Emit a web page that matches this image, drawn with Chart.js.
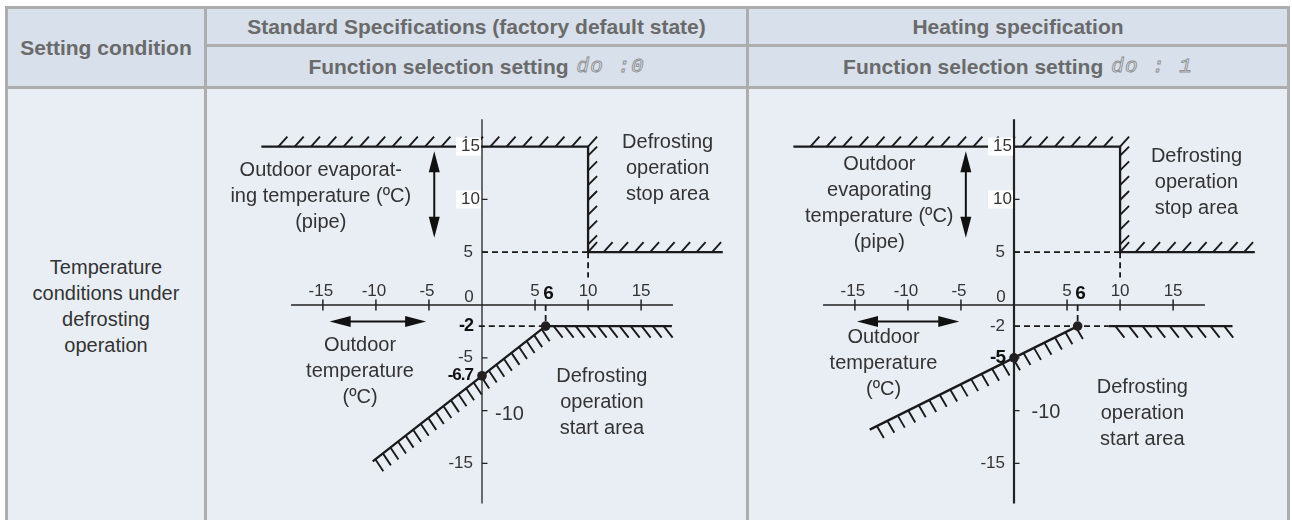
<!DOCTYPE html>
<html>
<head>
<meta charset="utf-8">
<script src="https://cdn.jsdelivr.net/npm/chart.js@4.4.1/dist/chart.umd.min.js"></script>
<style>
  body { margin: 0; width: 1292px; height: 520px; overflow: hidden; background: #fff;
         font-family: "Liberation Sans", Arial, sans-serif; }
  #grid { position: absolute; left: 5px; top: 6px; width: 1285px; box-sizing: border-box;
          display: grid; grid-template-columns: 196px 539px 538px; grid-template-rows: 35px 39px 434px;
          gap: 3px; padding: 3px; background: #adadad; z-index: 1; }
  .hd { background: #d7e0eb; color: #6a6a6a; font-weight: bold; font-size: 21px;
        display: flex; align-items: center; justify-content: center; white-space: nowrap; }
  .bd { background: #e9eef5; }
  .cond { display: flex; align-items: center; justify-content: center; text-align: center;
          color: #333; font-size: 20px; line-height: 26px; }
  .seg { font-family: "Liberation Mono", monospace; font-weight: normal; font-style: italic;
         color: transparent; -webkit-text-stroke: 0.9px #8f8f8f; margin-left: 8px; letter-spacing: 1px; }
  canvas { position: absolute; z-index: 2; }
</style>
</head>
<body>
<div id="grid">
  <div class="hd" style="grid-row: 1 / 3;">Setting condition</div>
  <div class="hd">Standard Specifications (factory default state)</div>
  <div class="hd">Heating specification</div>
  <div class="hd">Function selection setting<span class="seg">do :0</span></div>
  <div class="hd">Function selection setting<span class="seg">do : 1</span></div>
  <div class="bd cond">Temperature<br>conditions under<br>defrosting<br>operation</div>
  <div class="bd"></div>
  <div class="bd"></div>
</div>
<canvas id="c0" width="540" height="432" style="left:212px; top:89px; width:540px; height:432px;"></canvas>
<canvas id="c1" width="540" height="432" style="left:744px; top:89px; width:540px; height:432px;"></canvas>

<script>
// ---- axis ticks (°C) ----
const xTicks = [-15, -10, -5, 5, 10, 15];
const yTicks = [15, 10, 5, -5, -10, -15];

// ---- standard spec (do:0) ----
// stop boundary: pipe 15 until outdoor 10, then 5
const stopX0 = [-20.8, 10, 10, 22.7];
const stopY0 = [15, 15, 5, 5];
// start boundary: slope through (0,-6.7) to (6,-2), then flat -2
const startX0 = [-10.3, 6, 17.9];
const startY0 = [-14.8, -2, -2];
const kneeX0 = [0, 6];
const kneeY0 = [-6.7, -2];
const guideX0 = [[0, 10], [10, 10], [-0.3, 6], [6, 6]];
const guideY0 = [[5, 5], [5, 2.6], [-2, -2], [0, -2]];

// ---- heating spec (do:1) ----
const stopX1 = [-20.8, 10, 10, 22.7];
const stopY1 = [15, 15, 5, 5];
const startX1 = [-13.6, 6];
const startY1 = [-11.8, -2];
const flatX1 = [8.9, 20.6];
const flatY1 = [-2, -2];
const kneeX1 = [0, 6];
const kneeY1 = [-5, -2];
const guideX1 = [[0, 10], [10, 10], [0, 8.9], [6, 6]];
const guideY1 = [[5, 5], [5, 2.6], [-2, -2], [0, -2]];

const FONT = '"Liberation Sans", Arial, sans-serif';
const INK = '#1a1a1a';
const TXT = '#333';

function pts(xs, ys) { return xs.map((x, i) => ({ x: x, y: ys[i] })); }

function lineSet(xs, ys, dashed) {
  return {
    data: pts(xs, ys), showLine: true, fill: false, tension: 0,
    borderColor: INK, borderWidth: dashed ? 1.8 : 2.3,
    borderDash: dashed ? [6, 4] : [], pointRadius: 0, order: 2,
    borderCapStyle: 'butt', borderJoinStyle: 'miter'
  };
}

function hatch(ctx, X, Y, h) {
  const x0 = X(h.a[0]), y0 = Y(h.a[1]), x1 = X(h.b[0]), y1 = Y(h.b[1]);
  const len = Math.hypot(x1 - x0, y1 - y0);
  const ux = (x1 - x0) / len, uy = (y1 - y0) / len;
  ctx.beginPath();
  for (let s = h.off; s <= len - 2; s += h.gap) {
    const px = x0 + ux * s, py = y0 + uy * s;
    ctx.moveTo(px, py);
    ctx.lineTo(px + h.d[0], py + h.d[1]);
  }
  ctx.stroke();
}

function arrow(ctx, X, Y, ar) {
  const x0 = X(ar.a[0]), y0 = Y(ar.a[1]), x1 = X(ar.b[0]), y1 = Y(ar.b[1]);
  const len = Math.hypot(x1 - x0, y1 - y0);
  const ux = (x1 - x0) / len, uy = (y1 - y0) / len;
  const hl = 21, hw = 5.5;
  ctx.beginPath();
  ctx.moveTo(x0 + ux * hl * 0.8, y0 + uy * hl * 0.8);
  ctx.lineTo(x1 - ux * hl * 0.8, y1 - uy * hl * 0.8);
  ctx.stroke();
  [[x0, y0, 1], [x1, y1, -1]].forEach(([tx, ty, sg]) => {
    const bx = tx + ux * hl * sg, by = ty + uy * hl * sg;
    ctx.beginPath();
    ctx.moveTo(tx, ty);
    ctx.lineTo(bx - uy * hw, by + ux * hw);
    ctx.lineTo(bx + uy * hw, by - ux * hw);
    ctx.closePath();
    ctx.fill();
  });
}

function text(ctx, s, x, y, size, align, bold) {
  ctx.font = (bold ? 'bold ' : '') + size + 'px ' + FONT;
  ctx.textAlign = align;
  ctx.textBaseline = 'middle';
  ctx.fillText(s, x, y);
}

function diagram(spec) {
  return {
    id: 'diagram',
    beforeDatasetsDraw(chart) {
      const ctx = chart.ctx;
      const X = v => chart.scales.x.getPixelForValue(v);
      const Y = v => chart.scales.y.getPixelForValue(v);
      ctx.save();
      ctx.strokeStyle = '#222';
      // x axis
      ctx.lineWidth = 1.5;
      ctx.beginPath();
      ctx.moveTo(X(-18), Y(0)); ctx.lineTo(X(18), Y(0));
      xTicks.forEach(t => { ctx.moveTo(X(t), Y(0) - 5.5); ctx.lineTo(X(t), Y(0) + 5.5); });
      ctx.stroke();
      // y axis
      ctx.lineWidth = spec.yAxisWidth;
      ctx.beginPath();
      ctx.moveTo(X(0), Y(17.6)); ctx.lineTo(X(0), Y(-18.8));
      ctx.stroke();
      ctx.lineWidth = 1.3;
      ctx.beginPath();
      yTicks.forEach(t => { ctx.moveTo(X(0), Y(t)); ctx.lineTo(X(0) + 5.5, Y(t)); });
      ctx.stroke();
      // hatching on the boundaries
      ctx.strokeStyle = INK;
      ctx.lineWidth = 1.9;
      spec.hatches.forEach(h => hatch(ctx, X, Y, h));
      ctx.restore();
    },
    afterDatasetsDraw(chart) {
      const ctx = chart.ctx;
      const X = v => chart.scales.x.getPixelForValue(v);
      const Y = v => chart.scales.y.getPixelForValue(v);
      ctx.save();
      // white plates behind 15 / 10
      ctx.fillStyle = '#fff';
      [15, 10].forEach(t => ctx.fillRect(X(0) - 26, Y(t) - 9, 25, 18));
      ctx.fillStyle = TXT;
      // x tick labels
      xTicks.forEach(t => text(ctx, String(t), X(t) - (t < 0 ? 2 : 0), Y(0) - 14, 17, 'center'));
      text(ctx, '0', X(0) - 13, Y(0) - 8, 17, 'center');
      ctx.fillStyle = '#111';
      text(ctx, '6', X(6) + 3, Y(0) - 11, 19, 'center', true);
      ctx.fillStyle = TXT;
      // y tick labels
      spec.yLabels.forEach(t => {
        const dx = (t === 15 || t === 10) ? 2 : 9;
        text(ctx, String(t), X(0) - dx, Y(t), 17, 'right');
      });
      text(ctx, '-10', X(0) + spec.m10[0], Y(-10) + spec.m10[1], 20, 'center');
      spec.special.forEach(s => {
        ctx.fillStyle = s.bold ? '#111' : TXT;
        ctx.letterSpacing = s.bold ? '-1px' : '0px';
        text(ctx, s.t, X(0) - 9, Y(s.v), s.size, 'right', s.bold);
      });
      ctx.letterSpacing = '0px';
      // annotations
      ctx.fillStyle = TXT;
      spec.notes.forEach(n => n.lines.forEach((l, i) =>
        text(ctx, l, X(n.x), Y(n.y) + i * 26, 20, 'center')));
      // arrows
      ctx.fillStyle = '#111';
      ctx.strokeStyle = '#111';
      ctx.lineWidth = 2;
      spec.arrows.forEach(a => arrow(ctx, X, Y, a));
      ctx.restore();
    }
  };
}

function build(id, sets, spec) {
  new Chart(document.getElementById(id), {
    type: 'scatter',
    data: { datasets: sets },
    options: {
      responsive: false, animation: false, devicePixelRatio: 1, events: [],
      layout: { padding: 0 },
      scales: {
        x: { type: 'linear', min: -25, max: 25, display: false },
        y: { type: 'linear', min: -20, max: 20, display: false }
      },
      plugins: { legend: { display: false }, tooltip: { enabled: false } }
    },
    plugins: [diagram(spec)]
  });
}

function kneeSet(xs, ys) {
  return { data: pts(xs, ys), showLine: false, pointRadius: 4.8, pointBackgroundColor: '#231f20',
           pointBorderColor: '#231f20', pointBorderWidth: 0, order: 0 };
}

// chart 0
build('c0',
  [kneeSet(kneeX0, kneeY0), lineSet(stopX0, stopY0), lineSet(startX0, startY0)]
    .concat(guideX0.map((g, i) => lineSet(g, guideY0[i], true))),
  {
    yAxisWidth: 1.3,
    yLabels: [15, 10, 5, -5, -15],
    m10: [27.5, 4],
    special: [{ t: '-2', v: -2, bold: true, size: 18 }, { t: '-6.7', v: -6.7, bold: true, size: 17 }],
    hatches: [
      { a: [stopX0[1], stopY0[1]], b: [stopX0[0], stopY0[0]], gap: 16.3, off: 0, d: [9, -10] },
      { a: [stopX0[1], stopY0[1]], b: [stopX0[2], stopY0[2]], gap: 14.8, off: 9, d: [9, -9] },
      { a: [stopX0[2], stopY0[2]], b: [stopX0[3], stopY0[3]], gap: 15.5, off: 0, d: [9, -10] },
      { a: [startX0[1], startY0[1]], b: [startX0[0], startY0[0]], gap: 9.6, off: 5, d: [8, 12] },
      { a: [startX0[1], startY0[1]], b: [startX0[2], startY0[2]], gap: 11, off: 8, d: [9, 11.5] }
    ],
    notes: [
      { lines: ['Outdoor evaporat-', 'ing temperature (ºC)', '(pipe)'], x: -15.2, y: 12.7 },
      { lines: ['Defrosting', 'operation', 'stop area'], x: 17.5, y: 15.4 },
      { lines: ['Outdoor', 'temperature', '(ºC)'], x: -11.5, y: -3.8 },
      { lines: ['Defrosting', 'operation', 'start area'], x: 11.3, y: -6.8 }
    ],
    arrows: [{ a: [-4.5, 14.55], b: [-4.5, 6.37] }, { a: [-14.36, -1.56], b: [-5.27, -1.56] }]
  });

// chart 1
build('c1',
  [kneeSet(kneeX1, kneeY1), lineSet(stopX1, stopY1), lineSet(startX1, startY1), lineSet(flatX1, flatY1)]
    .concat(guideX1.map((g, i) => lineSet(g, guideY1[i], true))),
  {
    yAxisWidth: 2.2,
    yLabels: [15, 10, 5, -15],
    m10: [32, 2],
    special: [{ t: '-2', v: -2, bold: false, size: 17 }, { t: '-5', v: -5, bold: true, size: 19 }],
    hatches: [
      { a: [stopX1[1], stopY1[1]], b: [stopX1[0], stopY1[0]], gap: 16.3, off: 0, d: [9, -10] },
      { a: [stopX1[1], stopY1[1]], b: [stopX1[2], stopY1[2]], gap: 14.8, off: 9, d: [9, -9] },
      { a: [stopX1[2], stopY1[2]], b: [stopX1[3], stopY1[3]], gap: 15.5, off: 0, d: [9, -10] },
      { a: [startX1[1], startY1[1]], b: [startX1[0], startY1[0]], gap: 11.7, off: 2, d: [7, 12] },
      { a: [flatX1[0], flatY1[0]], b: [flatX1[1], flatY1[1]], gap: 13.6, off: 7, d: [9, 11.5] }
    ],
    notes: [
      { lines: ['Outdoor', 'evaporating', 'temperature (ºC)', '(pipe)'], x: -12.7, y: 13.3 },
      { lines: ['Defrosting', 'operation', 'stop area'], x: 17.2, y: 14.1 },
      { lines: ['Outdoor', 'temperature', '(ºC)'], x: -12.3, y: -3.1 },
      { lines: ['Defrosting', 'operation', 'start area'], x: 12.1, y: -7.8 }
    ],
    arrows: [{ a: [-4.54, 14.55], b: [-4.54, 6.37] }, { a: [-14.8, -1.56], b: [-5.16, -1.56] }]
  });
</script>
</body>
</html>
